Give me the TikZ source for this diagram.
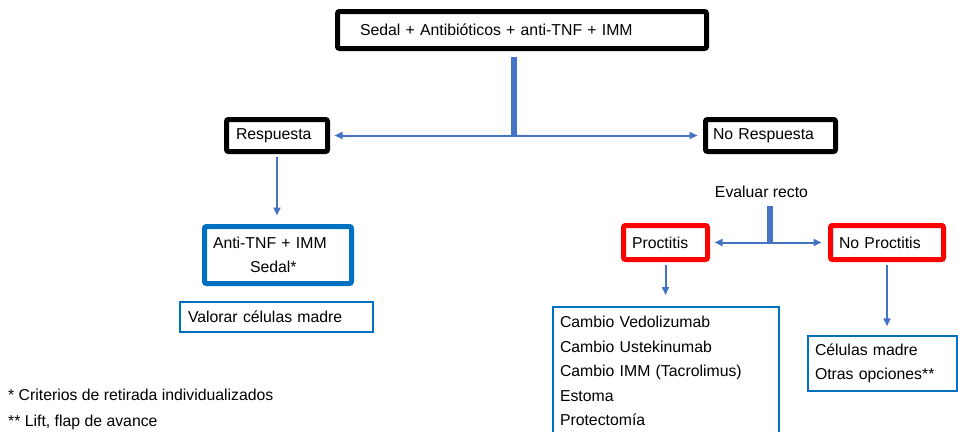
\documentclass[tikz,border=0pt]{standalone}
\usepackage{fontspec}
\setmainfont{Liberation Sans}
\usetikzlibrary{arrows.meta}

\definecolor{linkblue}{HTML}{4472C4}
\definecolor{boxblue}{HTML}{0070C0}

\begin{document}
\begin{tikzpicture}[x=1pt,y=-1pt,
  font=\fontsize{15.8}{24.5}\selectfont,
  blackbox/.style={draw=black,line width=5pt,rounded corners=2pt,align=left,inner ysep=0pt},
  redbox/.style={draw=red,line width=5pt,rounded corners=2pt,align=left,inner ysep=0pt},
  bluebox/.style={draw=boxblue,line width=5pt,rounded corners=2pt,align=left,inner ysep=0pt},
  thinbox/.style={draw=boxblue,line width=1.5pt,align=left,inner ysep=0pt},
  link/.style={draw=linkblue,line width=2pt,-{Triangle[length=8pt,width=7pt]}},
  trunk/.style={draw=linkblue,line width=6pt}]
  \useasboundingbox (0,0) rectangle (958,431);
  \clip (0,0) rectangle (958,431);

  \node[blackbox,inner xsep=22.5pt,text width=324pt,minimum height=37pt] (Sedal) at (522,30) {Sedal + Antibióticos + anti-TNF + IMM};
  \node[blackbox,inner xsep=9.5pt,text width=82pt,minimum height=32pt] (Resp) at (277,135.5) {Respuesta};
  \node[blackbox,inner xsep=7.5pt,text width=115pt,minimum height=32pt] (NoResp) at (770.5,135.5) {No Respuesta};
  \node[bluebox,inner xsep=8.5pt,text width=130pt,minimum height=57pt] (AntiTNF) at (278,255) {Anti-TNF + IMM\\\hspace*{37pt}Sedal*};
  \node[thinbox,inner xsep=8pt,text width=177pt,minimum height=30pt] (Valorar) at (276.5,317) {Valorar células madre};
  \node[inner sep=0pt] (Evaluar) at (761.5,192) {Evaluar recto};
  \node[redbox,inner xsep=8.5pt,text width=67pt,minimum height=34pt] (Proct) at (665.5,242.5) {Proctitis};
  \node[redbox,inner xsep=8.5pt,text width=96pt,minimum height=34pt] (NoProct) at (887,242.5) {No Proctitis};
  \node[thinbox,anchor=north,inner xsep=7pt,text width=212pt,minimum height=129pt] (Cambio) at (666,306)
    {Cambio Vedolizumab\\Cambio Ustekinumab\\Cambio IMM (Tacrolimus)\\Estoma\\Protectomía};
  \node[thinbox,inner xsep=7pt,text width=135pt,minimum height=55pt] (Celulas) at (882.5,363.5) {Células madre\\Otras opciones**};
  \node[anchor=west,inner sep=0pt] (Nota-1) at (8,395) {* Criterios de retirada individualizados};
  \node[anchor=west,inner sep=0pt] (Nota-2) at (8,422) {** Lift, flap de avance};

  \coordinate (J-1) at (514,135.5);
  \draw[trunk,shorten <=6pt] (J-1 |- Sedal.south) -- (J-1);
  \draw[link,shorten >=4.5pt] (J-1) -- (Resp.east);
  \draw[link,shorten >=5.5pt] (J-1) -- (NoResp.west);
  \draw[link,shorten <=2.5pt,shorten >=8.5pt] (Resp.south) -- (Resp.south |- AntiTNF.north);

  \coordinate (J-2) at (770,242.5);
  \draw[trunk,shorten <=8pt] (J-2 |- Evaluar.south) -- (J-2);
  \draw[link,shorten >=4.5pt] (J-2) -- (Proct.east);
  \draw[link,shorten >=6.5pt] (J-2) -- (NoProct.west);
  \draw[link,shorten <=2.5pt,shorten >=11pt] (Proct.south) -- (Proct.south |- Cambio.north);
  \draw[link,shorten <=2.5pt,shorten >=9pt] (NoProct.south) -- (NoProct.south |- Celulas.north);
\end{tikzpicture}
\end{document}
